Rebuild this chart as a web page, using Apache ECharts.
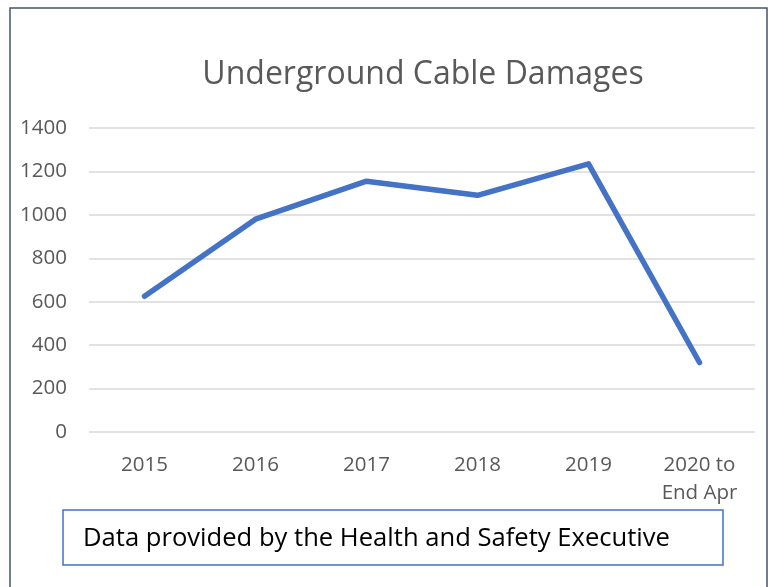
<!DOCTYPE html>
<html>
<head>
<meta charset="utf-8">
<script src="https://cdn.jsdelivr.net/npm/echarts@6/dist/echarts.min.js"></script>
<style>
html,body{margin:0;padding:0;background:#fff;}
#chart{width:771px;height:587px;}
</style>
</head>
<body>
<div id="chart"></div>
<script>
var categories = ['2015', '2016', '2017', '2018', '2019', '2020 to\nEnd Apr'];
var damages = [625, 980, 1155, 1090, 1235, 320];
var yTicks = { min: 0, max: 1400, interval: 200 };
var titleText = 'Underground Cable Damages';
var noteText = 'Data provided by the Health and Safety Executive';

var chart = echarts.init(document.getElementById('chart'), null, { renderer: 'canvas' });
chart.setOption({
  animation: false,
  backgroundColor: '#ffffff',
  title: {
    text: titleText,
    left: 418,
    textAlign: 'center',
    top: 54,
    textStyle: { fontFamily: 'Open Sans', fontWeight: 'normal', fontSize: 32, color: '#595959' }
  },
  grid: { left: 89, right: 16, top: 128, bottom: 155, containLabel: false },
  xAxis: {
    type: 'category',
    data: categories,
    boundaryGap: true,
    axisLine: { show: false },
    axisTick: { show: false },
    axisLabel: { fontFamily: 'Open Sans', fontSize: 20.5, color: '#595959', margin: 19, lineHeight: 28, interval: 0 }
  },
  yAxis: {
    type: 'value',
    min: yTicks.min,
    max: yTicks.max,
    interval: yTicks.interval,
    axisLine: { show: false },
    axisTick: { show: false },
    axisLabel: { fontFamily: 'Open Sans', fontSize: 20.5, color: '#595959', margin: 22, formatter: function (v) { return String(v); } },
    splitLine: { lineStyle: { color: '#d9d9d9', width: 1.5 } }
  },
  series: [{
    type: 'line',
    data: damages,
    symbol: 'none',
    lineStyle: { color: '#4472c4', width: 5.5, cap: 'round', join: 'round' }
  }],
  graphic: [
    {
      type: 'rect',
      shape: { x: 10, y: 8, width: 757, height: 600 },
      style: { fill: 'none', stroke: '#44546a', lineWidth: 1.5 },
      silent: true
    },
    {
      type: 'rect',
      shape: { x: 63, y: 510, width: 660, height: 55 },
      style: { fill: '#ffffff', stroke: '#4472c4', lineWidth: 1.5 },
      silent: true
    },
    {
      type: 'text',
      x: 83,
      y: 539,
      style: { text: noteText, fontFamily: 'Open Sans', fontSize: 25.6, fill: '#000000', verticalAlign: 'middle' },
      silent: true
    }
  ]
});
</script>
</body>
</html>
